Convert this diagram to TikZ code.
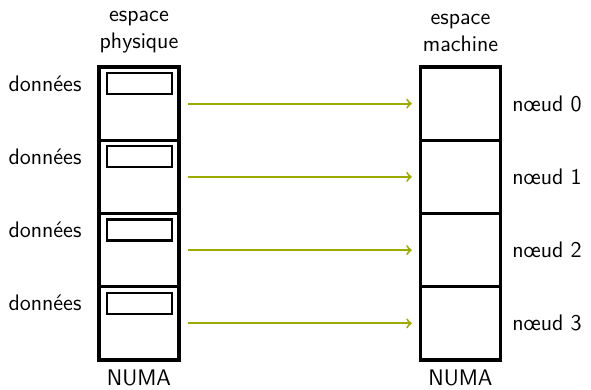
\documentclass[tikz,border=0pt]{standalone}
\usepackage{amsmath}
\usetikzlibrary{positioning}
\definecolor{flecheolive}{RGB}{158,170,0}

\begin{document}
\begin{tikzpicture}[cell/.style={rectangle,draw,line width=1.9pt,
      minimum width=1.6cm,minimum height=1.465cm,inner sep=0pt},
      donnee/.style={rectangle,draw,line width=1.4pt,minimum
      width=1.3cm,minimum height=0.42cm,inner sep=0pt}]
      \tikzstyle{every node}=[font=\sffamily\fontsize{12.8}{15.3}\selectfont]
      \useasboundingbox (0,0) rectangle (11.82,-7.78);
      % titres des deux colonnes
      \node[align=center] (Tphys) at (2.78,-0.65) {espace\\physique};
      \node[align=center] (Tmach) at (9.21,-0.65) {espace\\machine};
      \foreach \i in {0,...,3}{
        \node[cell] (P\i) at (2.78,{-2.0725-1.465*\i}) {}; %L\i
        \node[cell] (M\i) at (9.21,{-2.0725-1.465*\i}) {};
        \node[donnee] (D\i) at (2.79,{-1.67-1.465*\i}) {};
        \node[] (L\i) at (0.9,{-1.67-1.465*\i}) {données};
        \node[right=0.08cm of M\i] (N\i) {nœud \i};
        \draw[->,flecheolive,line width=1.1pt,shorten <=4pt,shorten
        >=4pt] (P\i) -- (M\i);
      }
      \node[inner sep=1pt] (Bphys) at (2.78,-7.56) {NUMA};
      \node[inner sep=1pt] (Bmach) at (9.21,-7.56) {NUMA};
    \end{tikzpicture}
\end{document}
